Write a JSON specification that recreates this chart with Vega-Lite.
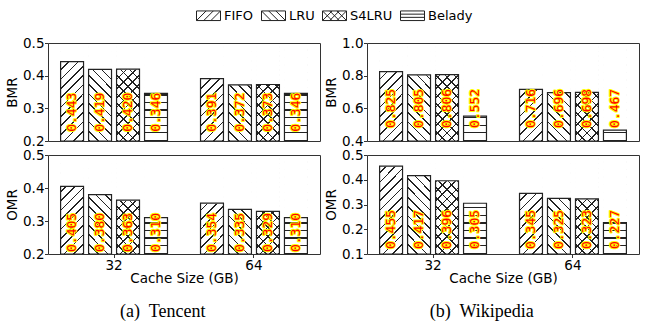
{
  "$schema": "https://vega.github.io/schema/vega-lite/v6.json",
  "padding": {"left": 5, "top": 3, "right": 0, "bottom": 0},
  "background": "white",
  "params": [
    {"name": "hs", "expr": "[{offset:0,color:'transparent'},{offset:0.0631,color:'transparent'},{offset:0.0631,color:'#222'},{offset:0.0769,color:'#222'},{offset:0.0769,color:'transparent'},{offset:0.14,color:'transparent'},{offset:0.14,color:'#222'},{offset:0.1538,color:'#222'},{offset:0.1538,color:'transparent'},{offset:0.2169,color:'transparent'},{offset:0.2169,color:'#222'},{offset:0.2308,color:'#222'},{offset:0.2308,color:'transparent'},{offset:0.2938,color:'transparent'},{offset:0.2938,color:'#222'},{offset:0.3077,color:'#222'},{offset:0.3077,color:'transparent'},{offset:0.3708,color:'transparent'},{offset:0.3708,color:'#222'},{offset:0.3846,color:'#222'},{offset:0.3846,color:'transparent'},{offset:0.4477,color:'transparent'},{offset:0.4477,color:'#222'},{offset:0.4615,color:'#222'},{offset:0.4615,color:'transparent'},{offset:0.5246,color:'transparent'},{offset:0.5246,color:'#222'},{offset:0.5385,color:'#222'},{offset:0.5385,color:'transparent'},{offset:0.6015,color:'transparent'},{offset:0.6015,color:'#222'},{offset:0.6154,color:'#222'},{offset:0.6154,color:'transparent'},{offset:0.6785,color:'transparent'},{offset:0.6785,color:'#222'},{offset:0.6923,color:'#222'},{offset:0.6923,color:'transparent'},{offset:0.7554,color:'transparent'},{offset:0.7554,color:'#222'},{offset:0.7692,color:'#222'},{offset:0.7692,color:'transparent'},{offset:0.8323,color:'transparent'},{offset:0.8323,color:'#222'},{offset:0.8462,color:'#222'},{offset:0.8462,color:'transparent'},{offset:0.9092,color:'transparent'},{offset:0.9092,color:'#222'},{offset:0.9231,color:'#222'},{offset:0.9231,color:'transparent'},{offset:0.9862,color:'transparent'},{offset:0.9862,color:'#222'},{offset:1,color:'#222'}]"},
    {"name": "gF", "expr": "{gradient: 'linear', x1: 0, y1: 0, x2: 0.2747, y2: 1.1702, stops: hs}"},
    {"name": "gL", "expr": "{gradient: 'linear', x1: 1, y1: 0, x2: 0.7253, y2: 1.1702, stops: hs}"},
    {"name": "gB", "expr": "{gradient: 'linear', x1: 0, y1: 0, x2: 0, y2: 1, stops: hs}"}
  ],
  "datasets": {
    "cache": [
      {"trace": "Tencent", "metric": "BMR", "size": "32", "policy": "FIFO", "value": 0.443},
      {"trace": "Tencent", "metric": "BMR", "size": "32", "policy": "LRU", "value": 0.419},
      {"trace": "Tencent", "metric": "BMR", "size": "32", "policy": "S4LRU", "value": 0.420},
      {"trace": "Tencent", "metric": "BMR", "size": "32", "policy": "Belady", "value": 0.346},
      {"trace": "Tencent", "metric": "BMR", "size": "64", "policy": "FIFO", "value": 0.391},
      {"trace": "Tencent", "metric": "BMR", "size": "64", "policy": "LRU", "value": 0.372},
      {"trace": "Tencent", "metric": "BMR", "size": "64", "policy": "S4LRU", "value": 0.373},
      {"trace": "Tencent", "metric": "BMR", "size": "64", "policy": "Belady", "value": 0.346},
      {"trace": "Tencent", "metric": "OMR", "size": "32", "policy": "FIFO", "value": 0.405},
      {"trace": "Tencent", "metric": "OMR", "size": "32", "policy": "LRU", "value": 0.380},
      {"trace": "Tencent", "metric": "OMR", "size": "32", "policy": "S4LRU", "value": 0.363},
      {"trace": "Tencent", "metric": "OMR", "size": "32", "policy": "Belady", "value": 0.310},
      {"trace": "Tencent", "metric": "OMR", "size": "64", "policy": "FIFO", "value": 0.354},
      {"trace": "Tencent", "metric": "OMR", "size": "64", "policy": "LRU", "value": 0.335},
      {"trace": "Tencent", "metric": "OMR", "size": "64", "policy": "S4LRU", "value": 0.329},
      {"trace": "Tencent", "metric": "OMR", "size": "64", "policy": "Belady", "value": 0.310},
      {"trace": "Wikipedia", "metric": "BMR", "size": "32", "policy": "FIFO", "value": 0.825},
      {"trace": "Wikipedia", "metric": "BMR", "size": "32", "policy": "LRU", "value": 0.805},
      {"trace": "Wikipedia", "metric": "BMR", "size": "32", "policy": "S4LRU", "value": 0.806},
      {"trace": "Wikipedia", "metric": "BMR", "size": "32", "policy": "Belady", "value": 0.552},
      {"trace": "Wikipedia", "metric": "BMR", "size": "64", "policy": "FIFO", "value": 0.716},
      {"trace": "Wikipedia", "metric": "BMR", "size": "64", "policy": "LRU", "value": 0.696},
      {"trace": "Wikipedia", "metric": "BMR", "size": "64", "policy": "S4LRU", "value": 0.698},
      {"trace": "Wikipedia", "metric": "BMR", "size": "64", "policy": "Belady", "value": 0.467},
      {"trace": "Wikipedia", "metric": "OMR", "size": "32", "policy": "FIFO", "value": 0.455},
      {"trace": "Wikipedia", "metric": "OMR", "size": "32", "policy": "LRU", "value": 0.417},
      {"trace": "Wikipedia", "metric": "OMR", "size": "32", "policy": "S4LRU", "value": 0.396},
      {"trace": "Wikipedia", "metric": "OMR", "size": "32", "policy": "Belady", "value": 0.305},
      {"trace": "Wikipedia", "metric": "OMR", "size": "64", "policy": "FIFO", "value": 0.345},
      {"trace": "Wikipedia", "metric": "OMR", "size": "64", "policy": "LRU", "value": 0.325},
      {"trace": "Wikipedia", "metric": "OMR", "size": "64", "policy": "S4LRU", "value": 0.323},
      {"trace": "Wikipedia", "metric": "OMR", "size": "64", "policy": "Belady", "value": 0.227}
    ]
  },
  "spacing": 3,
  "hconcat": [
    {
      "spacing": 14,
      "bounds": "flush",
      "title": {"text": "(a)\u00a0 Tencent", "orient": "bottom", "anchor": "middle", "offset": 17},
      "vconcat": [
        {
          "width": 272, "height": 98,
          "data": {"name": "cache"},
          "transform": [{"filter": "datum.trace == 'Tencent' && datum.metric == 'BMR'"}],
          "encoding": {
            "x": {"field": "size", "type": "nominal", "sort": ["32", "64"], "scale": {"paddingInner": 0.236, "paddingOuter": 0.09}, "axis": null},
            "xOffset": {"field": "policy", "type": "nominal", "sort": ["FIFO", "LRU", "S4LRU", "Belady"], "scale": {"paddingInner": 0.18, "paddingOuter": 0}}
          },
          "layer": [
            {"mark": {"type": "bar", "fill": {"expr": "datum.policy == 'LRU' ? gL : datum.policy == 'Belady' ? gB : gF"}},
             "encoding": {"y": {"datum": 0.5, "type": "quantitative", "scale": {"domain": [0.2, 0.5], "nice": false, "zero": false}, "axis": {"title": "BMR", "values": [0.2, 0.3, 0.4, 0.5], "format": ".1f", "labelOverlap": false}}, "y2": {"datum": 0.2}}},
            {"mark": {"type": "bar", "fill": {"expr": "datum.policy == 'S4LRU' ? gL : 'transparent'"}},
             "encoding": {"y": {"datum": 0.5, "type": "quantitative", "axis": {"title": "BMR", "values": [0.2, 0.3, 0.4, 0.5], "format": ".1f", "labelOverlap": false}}, "y2": {"datum": 0.2}}},
            {"mark": {"type": "point", "filled": false, "stroke": "#222", "strokeWidth": 1},
             "encoding": {"y": {"datum": 0.48, "type": "quantitative", "axis": {"title": "BMR", "values": [0.2, 0.3, 0.4, 0.5], "format": ".1f", "labelOverlap": false}},
               "shape": {"field": "policy", "type": "nominal",
                 "scale": {"domain": ["FIFO", "LRU", "S4LRU", "Belady"], "range": [
                   "M-1,-0.4H1V0.4H-1ZM-1,0.4L-0.2,-0.4M-0.4,0.4L0.4,-0.4M0.2,0.4L1,-0.4",
                   "M-1,-0.4H1V0.4H-1ZM-1,-0.4L-0.2,0.4M-0.4,-0.4L0.4,0.4M0.2,-0.4L1,0.4",
                   "M-1,-0.4H1V0.4H-1ZM-1,0.4L-0.2,-0.4M-0.4,0.4L0.4,-0.4M0.2,0.4L1,-0.4M-1,-0.4L-0.2,0.4M-0.4,-0.4L0.4,0.4M0.2,-0.4L1,0.4",
                   "M-1,-0.4H1V0.4H-1ZM-1,-0.133H1M-1,0.133H1"]},
                 "legend": {"title": null, "orient": "none", "legendX": 148, "legendY": -40, "direction": "horizontal", "symbolSize": 576, "symbolStrokeWidth": 1, "symbolStrokeColor": "#222", "symbolOpacity": 1, "labelFont": "DejaVu Sans", "labelFontSize": 13, "labelColor": "#000", "labelOffset": 3, "columnPadding": 5}}}},
            {"mark": {"type": "bar", "fill": "white", "stroke": "white", "strokeWidth": 1},
             "encoding": {"y": {"field": "value", "type": "quantitative", "axis": {"title": "BMR", "values": [0.2, 0.3, 0.4, 0.5], "format": ".1f", "labelOverlap": false}}, "y2": {"datum": 0.5}}},
            {"mark": {"type": "bar", "fill": "transparent", "stroke": "#222", "strokeWidth": 1.2},
             "encoding": {"y": {"field": "value", "type": "quantitative", "axis": {"title": "BMR", "values": [0.2, 0.3, 0.4, 0.5], "format": ".1f", "labelOverlap": false}}, "y2": {"datum": 0.2}}},
            {"mark": {"type": "text", "angle": 270, "align": "left", "baseline": "middle", "font": "DejaVu Sans Mono", "fontSize": 13, "fill": "#ffff00", "stroke": "#ffff00", "strokeWidth": 2, "strokeJoin": "round"},
             "encoding": {"y": {"datum": 0.228, "type": "quantitative", "axis": {"title": "BMR", "values": [0.2, 0.3, 0.4, 0.5], "format": ".1f", "labelOverlap": false}}, "text": {"field": "value", "type": "quantitative", "format": ".3f"}}},
            {"mark": {"type": "text", "angle": 270, "align": "left", "baseline": "middle", "font": "DejaVu Sans Mono", "fontSize": 13, "fill": "#ff0000"},
             "encoding": {"y": {"datum": 0.228, "type": "quantitative", "axis": {"title": "BMR", "values": [0.2, 0.3, 0.4, 0.5], "format": ".1f", "labelOverlap": false}}, "text": {"field": "value", "type": "quantitative", "format": ".3f"}}}
          ]
        },
        {
          "width": 272, "height": 99,
          "data": {"name": "cache"},
          "transform": [{"filter": "datum.trace == 'Tencent' && datum.metric == 'OMR'"}],
          "encoding": {
            "x": {"field": "size", "type": "nominal", "sort": ["32", "64"], "scale": {"paddingInner": 0.236, "paddingOuter": 0.09}, "axis": {"title": "Cache Size (GB)", "labelAngle": 0}},
            "xOffset": {"field": "policy", "type": "nominal", "sort": ["FIFO", "LRU", "S4LRU", "Belady"], "scale": {"paddingInner": 0.18, "paddingOuter": 0}}
          },
          "layer": [
            {"mark": {"type": "bar", "fill": {"expr": "datum.policy == 'LRU' ? gL : datum.policy == 'Belady' ? gB : gF"}},
             "encoding": {"y": {"datum": 0.5, "type": "quantitative", "scale": {"domain": [0.2, 0.5], "nice": false, "zero": false}, "axis": {"title": "OMR", "values": [0.2, 0.3, 0.4, 0.5], "format": ".1f", "labelOverlap": false}}, "y2": {"datum": 0.2}}},
            {"mark": {"type": "bar", "fill": {"expr": "datum.policy == 'S4LRU' ? gL : 'transparent'"}},
             "encoding": {"y": {"datum": 0.5, "type": "quantitative", "axis": {"title": "OMR", "values": [0.2, 0.3, 0.4, 0.5], "format": ".1f", "labelOverlap": false}}, "y2": {"datum": 0.2}}},
            {"mark": {"type": "bar", "fill": "white", "stroke": "white", "strokeWidth": 1},
             "encoding": {"y": {"field": "value", "type": "quantitative", "axis": {"title": "OMR", "values": [0.2, 0.3, 0.4, 0.5], "format": ".1f", "labelOverlap": false}}, "y2": {"datum": 0.5}}},
            {"mark": {"type": "bar", "fill": "transparent", "stroke": "#222", "strokeWidth": 1.2},
             "encoding": {"y": {"field": "value", "type": "quantitative", "axis": {"title": "OMR", "values": [0.2, 0.3, 0.4, 0.5], "format": ".1f", "labelOverlap": false}}, "y2": {"datum": 0.2}}},
            {"mark": {"type": "text", "angle": 270, "align": "left", "baseline": "middle", "font": "DejaVu Sans Mono", "fontSize": 13, "fill": "#ffff00", "stroke": "#ffff00", "strokeWidth": 2, "strokeJoin": "round"},
             "encoding": {"y": {"datum": 0.206, "type": "quantitative", "axis": {"title": "OMR", "values": [0.2, 0.3, 0.4, 0.5], "format": ".1f", "labelOverlap": false}}, "text": {"field": "value", "type": "quantitative", "format": ".3f"}}},
            {"mark": {"type": "text", "angle": 270, "align": "left", "baseline": "middle", "font": "DejaVu Sans Mono", "fontSize": 13, "fill": "#ff0000"},
             "encoding": {"y": {"datum": 0.206, "type": "quantitative", "axis": {"title": "OMR", "values": [0.2, 0.3, 0.4, 0.5], "format": ".1f", "labelOverlap": false}}, "text": {"field": "value", "type": "quantitative", "format": ".3f"}}}
          ]
        }
      ]
    },
    {
      "spacing": 14,
      "bounds": "flush",
      "title": {"text": "(b)\u00a0 Wikipedia", "orient": "bottom", "anchor": "middle", "offset": 17},
      "vconcat": [
        {
          "width": 272, "height": 98,
          "data": {"name": "cache"},
          "transform": [{"filter": "datum.trace == 'Wikipedia' && datum.metric == 'BMR'"}],
          "encoding": {
            "x": {"field": "size", "type": "nominal", "sort": ["32", "64"], "scale": {"paddingInner": 0.236, "paddingOuter": 0.09}, "axis": null},
            "xOffset": {"field": "policy", "type": "nominal", "sort": ["FIFO", "LRU", "S4LRU", "Belady"], "scale": {"paddingInner": 0.18, "paddingOuter": 0}}
          },
          "layer": [
            {"mark": {"type": "bar", "fill": {"expr": "datum.policy == 'LRU' ? gL : datum.policy == 'Belady' ? gB : gF"}},
             "encoding": {"y": {"datum": 1.0, "type": "quantitative", "scale": {"domain": [0.4, 1.0], "nice": false, "zero": false}, "axis": {"title": "BMR", "values": [0.4, 0.6, 0.8, 1.0], "format": ".1f", "labelOverlap": false}}, "y2": {"datum": 0.4}}},
            {"mark": {"type": "bar", "fill": {"expr": "datum.policy == 'S4LRU' ? gL : 'transparent'"}},
             "encoding": {"y": {"datum": 1.0, "type": "quantitative", "axis": {"title": "BMR", "values": [0.4, 0.6, 0.8, 1.0], "format": ".1f", "labelOverlap": false}}, "y2": {"datum": 0.4}}},
            {"mark": {"type": "bar", "fill": "white", "stroke": "white", "strokeWidth": 1},
             "encoding": {"y": {"field": "value", "type": "quantitative", "axis": {"title": "BMR", "values": [0.4, 0.6, 0.8, 1.0], "format": ".1f", "labelOverlap": false}}, "y2": {"datum": 1.0}}},
            {"mark": {"type": "bar", "fill": "transparent", "stroke": "#222", "strokeWidth": 1.2},
             "encoding": {"y": {"field": "value", "type": "quantitative", "axis": {"title": "BMR", "values": [0.4, 0.6, 0.8, 1.0], "format": ".1f", "labelOverlap": false}}, "y2": {"datum": 0.4}}},
            {"mark": {"type": "text", "angle": 270, "align": "left", "baseline": "middle", "font": "DejaVu Sans Mono", "fontSize": 13, "fill": "#ffff00", "stroke": "#ffff00", "strokeWidth": 2, "strokeJoin": "round"},
             "encoding": {"y": {"datum": 0.48, "type": "quantitative", "axis": {"title": "BMR", "values": [0.4, 0.6, 0.8, 1.0], "format": ".1f", "labelOverlap": false}}, "text": {"field": "value", "type": "quantitative", "format": ".3f"}}},
            {"mark": {"type": "text", "angle": 270, "align": "left", "baseline": "middle", "font": "DejaVu Sans Mono", "fontSize": 13, "fill": "#ff0000"},
             "encoding": {"y": {"datum": 0.48, "type": "quantitative", "axis": {"title": "BMR", "values": [0.4, 0.6, 0.8, 1.0], "format": ".1f", "labelOverlap": false}}, "text": {"field": "value", "type": "quantitative", "format": ".3f"}}}
          ]
        },
        {
          "width": 272, "height": 99,
          "data": {"name": "cache"},
          "transform": [{"filter": "datum.trace == 'Wikipedia' && datum.metric == 'OMR'"}],
          "encoding": {
            "x": {"field": "size", "type": "nominal", "sort": ["32", "64"], "scale": {"paddingInner": 0.236, "paddingOuter": 0.09}, "axis": {"title": "Cache Size (GB)", "labelAngle": 0}},
            "xOffset": {"field": "policy", "type": "nominal", "sort": ["FIFO", "LRU", "S4LRU", "Belady"], "scale": {"paddingInner": 0.18, "paddingOuter": 0}}
          },
          "layer": [
            {"mark": {"type": "bar", "fill": {"expr": "datum.policy == 'LRU' ? gL : datum.policy == 'Belady' ? gB : gF"}},
             "encoding": {"y": {"datum": 0.5, "type": "quantitative", "scale": {"domain": [0.1, 0.5], "nice": false, "zero": false}, "axis": {"title": "OMR", "values": [0.1, 0.2, 0.3, 0.4, 0.5], "format": ".1f", "labelOverlap": false}}, "y2": {"datum": 0.1}}},
            {"mark": {"type": "bar", "fill": {"expr": "datum.policy == 'S4LRU' ? gL : 'transparent'"}},
             "encoding": {"y": {"datum": 0.5, "type": "quantitative", "axis": {"title": "OMR", "values": [0.1, 0.2, 0.3, 0.4, 0.5], "format": ".1f", "labelOverlap": false}}, "y2": {"datum": 0.1}}},
            {"mark": {"type": "bar", "fill": "white", "stroke": "white", "strokeWidth": 1},
             "encoding": {"y": {"field": "value", "type": "quantitative", "axis": {"title": "OMR", "values": [0.1, 0.2, 0.3, 0.4, 0.5], "format": ".1f", "labelOverlap": false}}, "y2": {"datum": 0.5}}},
            {"mark": {"type": "bar", "fill": "transparent", "stroke": "#222", "strokeWidth": 1.2},
             "encoding": {"y": {"field": "value", "type": "quantitative", "axis": {"title": "OMR", "values": [0.1, 0.2, 0.3, 0.4, 0.5], "format": ".1f", "labelOverlap": false}}, "y2": {"datum": 0.1}}},
            {"mark": {"type": "text", "angle": 270, "align": "left", "baseline": "middle", "font": "DejaVu Sans Mono", "fontSize": 13, "fill": "#ffff00", "stroke": "#ffff00", "strokeWidth": 2, "strokeJoin": "round"},
             "encoding": {"y": {"datum": 0.12, "type": "quantitative", "axis": {"title": "OMR", "values": [0.1, 0.2, 0.3, 0.4, 0.5], "format": ".1f", "labelOverlap": false}}, "text": {"field": "value", "type": "quantitative", "format": ".3f"}}},
            {"mark": {"type": "text", "angle": 270, "align": "left", "baseline": "middle", "font": "DejaVu Sans Mono", "fontSize": 13, "fill": "#ff0000"},
             "encoding": {"y": {"datum": 0.12, "type": "quantitative", "axis": {"title": "OMR", "values": [0.1, 0.2, 0.3, 0.4, 0.5], "format": ".1f", "labelOverlap": false}}, "text": {"field": "value", "type": "quantitative", "format": ".3f"}}}
          ]
        }
      ]
    }
  ],
  "config": {
    "font": "DejaVu Sans",
    "view": {"stroke": "#333333", "strokeWidth": 1},
    "style": {"cell": {"strokeForeground": true}},
    "axis": {"labelFont": "DejaVu Sans", "titleFont": "DejaVu Sans", "labelFontSize": 13.5, "titleFontSize": 13.5, "titleFontWeight": "normal", "labelColor": "#000", "titleColor": "#000", "tickColor": "#333", "tickSize": 3.5, "tickWidth": 1, "domain": false, "grid": false, "labelPadding": 0.5, "labelOverlap": false, "labelFlush": false},
    "axisY": {"titlePadding": 3},
    "axisX": {"titlePadding": 0},
    "title": {"font": "Liberation Serif", "fontSize": 18, "fontWeight": "normal", "color": "#000"}
  }
}
